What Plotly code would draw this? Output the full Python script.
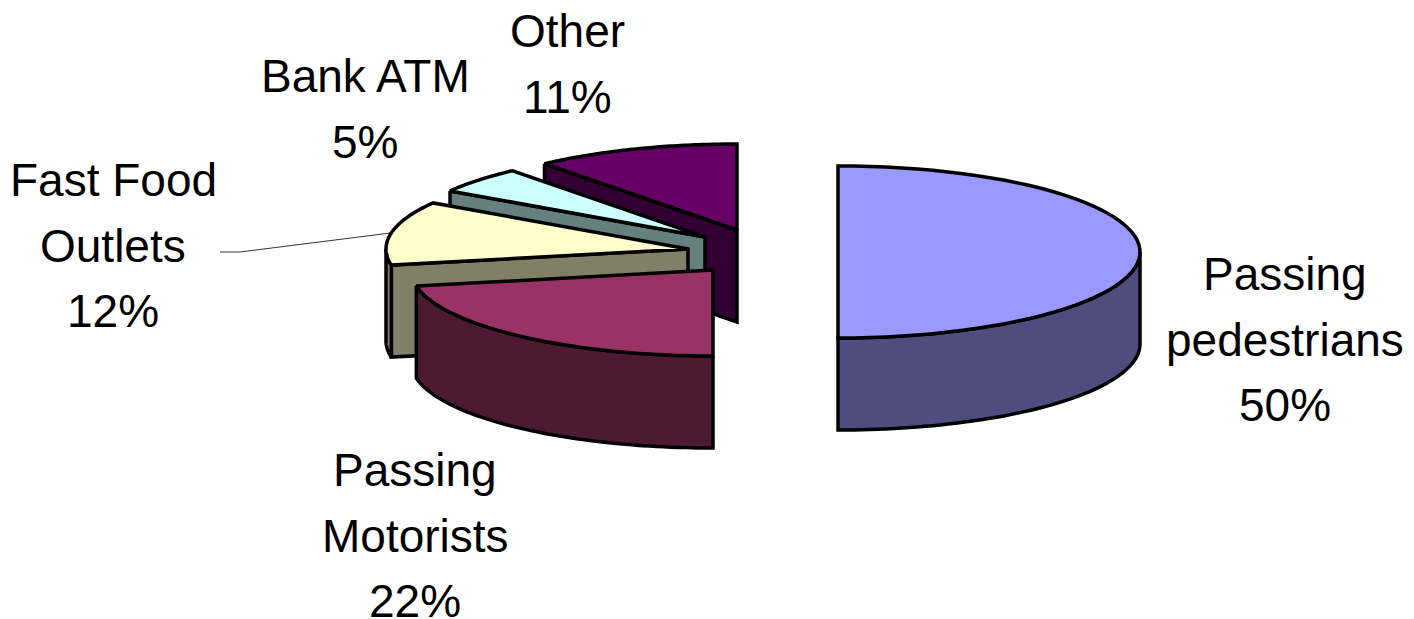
import numpy as np
import plotly.graph_objects as go

# Survey shares, in the clockwise order they sit around the pie
categories = ["Passing pedestrians", "Passing Motorists", "Fast Food Outlets", "Bank ATM", "Other"]
shares = [50, 22, 12, 5, 11]
label_lines = [["Passing", "pedestrians"], ["Passing", "Motorists"], ["Fast Food", "Outlets"], ["Bank ATM"], ["Other"]]
top_colors = ["#9999FF", "#993366", "#FFFFCC", "#CCFFFF", "#660066"]
side_colors = ["#4D4D80", "#4D1A33", "#808066", "#668080", "#330033"]

# Oblique projection of the pie, in pixels
RX, RY, DEPTH = 302, 86, 92
BASE = (760, 250)
EXPLODE = [(78, 2), (-47, 20), (-72, -1), (-55, -13), (-23, -20)]
LABEL_X = [1285, 415, 113, 365, 567]
LABEL_BASELINE = [291, 487, 197, 93, 48]
LINE_STEP = 65.5
FONT = "Liberation Sans"
FONT_SIZE = 46

total = sum(shares)
edges = np.concatenate([[0], np.cumsum(shares)]) / total * 360.0


def rim(center, start, stop, n=60):
    theta = np.radians(np.linspace(start, stop, n))
    return center[0] + RX * np.sin(theta), center[1] - RY * np.cos(theta)


def polygon(xs, ys, color, width=3.5):
    return go.Scatter(
        x=list(xs), y=list(ys), mode="lines", fill="toself", fillcolor=color,
        line=dict(color="black", width=width, simplify=False),
        hoverinfo="skip", showlegend=False,
    )


fig = go.Figure()
centers = [(BASE[0] + dx, BASE[1] + dy) for dx, dy in EXPLODE]

# Painted back to front so nearer wedges cover the ones behind them
for i in [4, 3, 2, 1, 0]:
    c, a0, a1 = centers[i], edges[i], edges[i + 1]
    # Cut face on the leading radius
    if 180 < a0 < 360:
        rx0, ry0 = rim(c, a0, a0, 1)
        fig.add_trace(polygon(
            [rx0[0], c[0], c[0], rx0[0], rx0[0]],
            [ry0[0], c[1], c[1] + DEPTH, ry0[0] + DEPTH, ry0[0]],
            side_colors[i],
        ))
    # Outer wall where the rim faces the viewer
    lo, hi = max(a0, 90), min(a1, 270)
    if lo < hi:
        wx, wy = rim(c, lo, hi)
        fig.add_trace(polygon(
            np.concatenate([wx, wx[::-1], wx[:1]]),
            np.concatenate([wy, wy[::-1] + DEPTH, wy[:1]]),
            side_colors[i],
        ))
    # Top surface
    tx, ty = rim(c, a0, a1)
    fig.add_trace(polygon(
        np.concatenate([[c[0]], tx, [c[0]]]),
        np.concatenate([[c[1]], ty, [c[1]]]),
        top_colors[i],
    ))

# Leader line from the Fast Food label to the middle of its wedge's rim
mid = (edges[2] + edges[3]) / 2
lx, ly = rim(centers[2], mid, mid, 1)
fig.add_trace(go.Scatter(
    x=[220, 240, lx[0]], y=[252, 252, ly[0]], mode="lines",
    line=dict(color="black", width=0.8), hoverinfo="skip", showlegend=False,
))

# One text item per line so the line pitch can be set exactly
for i, lines in enumerate(label_lines):
    rows = lines + [f"{shares[i]}%"]
    for j, row in enumerate(rows):
        fig.add_annotation(
            x=LABEL_X[i], y=LABEL_BASELINE[i] + j * LINE_STEP - 0.36 * FONT_SIZE,
            text=row, showarrow=False, xanchor="center", yanchor="middle",
            font=dict(family=FONT, size=FONT_SIZE, color="black"),
        )

fig.update_layout(
    width=1414, height=619, margin=dict(l=0, r=0, t=0, b=0),
    paper_bgcolor="white", plot_bgcolor="white",
    xaxis=dict(range=[0, 1414], visible=False, fixedrange=True),
    yaxis=dict(range=[619, 0], visible=False, fixedrange=True),
)
fig.write_html("out.html", config={"displayModeBar": False})
